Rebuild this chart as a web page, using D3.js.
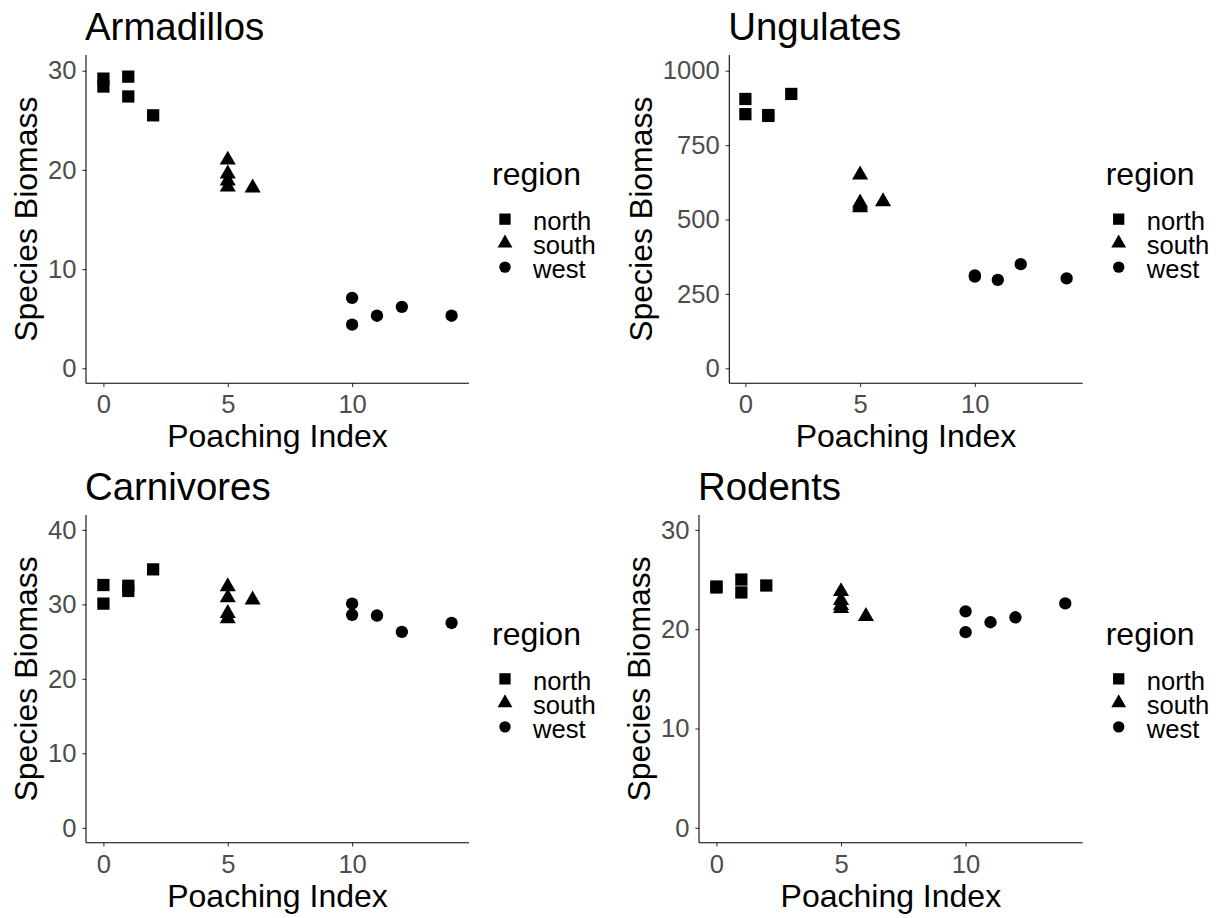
<!DOCTYPE html>
<html>
<head>
<meta charset="utf-8">
<script src="https://cdn.jsdelivr.net/npm/d3@7"></script>
<style>
  html, body { margin: 0; padding: 0; background: #fff; }
  svg { display: block; font-family: "Liberation Sans", Arial, sans-serif; }
</style>
</head>
<body>
<svg id="chart" width="1228" height="918"></svg>
<script>
// ---------------- data ----------------
const panelNames = ["Armadillos", "Ungulates", "Carnivores", "Rodents"];
const regions = ["north", "south", "west"];
const poachingIndex = [0, 0, 1, 1, 2, 5, 5, 5, 5, 6, 10, 10, 11, 12, 14];
const pointRegion = ["north", "north", "north", "north", "north",
                     "south", "south", "south", "south", "south",
                     "west", "west", "west", "west", "west"];
const armadillos = [29.2, 28.4, 29.4, 27.4, 25.5, 21.0, 19.6, 18.9, 18.3, 18.2, 7.1, 4.4, 5.3, 6.2, 5.3];
const ungulates  = [905, 854, 851, 848, 922, 650, 556, 548, 540, 560, 312, 308, 297, 350, 302];
const carnivores = [32.6, 30.1, 32.5, 31.8, 34.7, 32.4, 30.9, 28.8, 28.1, 30.6, 30.1, 28.6, 28.5, 26.3, 27.5];
const rodents    = [24.2, 24.3, 25.0, 23.7, 24.4, 23.8, 22.9, 22.4, 22.1, 21.3, 21.8, 19.7, 20.7, 21.2, 22.6];
const xTicks = [0, 5, 10];
const yTicksArmadillos = [0, 10, 20, 30];
const yTicksUngulates = [0, 250, 500, 750, 1000];
const yTicksCarnivores = [0, 10, 20, 30, 40];
const yTicksRodents = [0, 10, 20, 30];
const xLabel = "Poaching Index";
const yLabel = "Species Biomass";
const legendTitle = "region";

// ---------------- layout ----------------
const panelValues = [armadillos, ungulates, carnivores, rodents];
const panelYTicks = [yTicksArmadillos, yTicksUngulates, yTicksCarnivores, yTicksRodents];
const panelYDomain = [[-1.51, 31.58], [-50.4, 1052.8], [-2.0, 42.0], [-1.5, 31.5]];
const xDomain = [-0.7, 14.7];
const boxes = [
  { x0: 86,    x1: 469,    y0: 55,  y1: 383.3 },
  { x0: 729.3, x1: 1082.7, y0: 55,  y1: 383.3 },
  { x0: 86,    x1: 469,    y0: 515, y1: 842.7 },
  { x0: 699,   x1: 1082.7, y0: 515, y1: 842.7 }
];

const shapeOf = d3.scaleOrdinal().domain(regions)
  .range([d3.symbolSquare, d3.symbolTriangle, d3.symbolCircle]);
const sizeOf = d3.scaleOrdinal().domain(regions).range([150, 112, 120]);

const svg = d3.select("#chart");

panelNames.forEach((name, i) => {
  const b = boxes[i];
  const x = d3.scaleLinear().domain(xDomain).range([b.x0, b.x1]);
  const y = d3.scaleLinear().domain(panelYDomain[i]).range([b.y1, b.y0]);
  const g = svg.append("g");

  // title
  g.append("text")
    .attr("x", b.x0 - 1).attr("y", b.y0 - 15)
    .attr("font-size", 38.4).attr("fill", "#000")
    .text(name);

  // axes
  const yAxis = g.append("g").attr("transform", `translate(${b.x0},0)`)
    .call(d3.axisLeft(y).tickValues(panelYTicks[i]).tickSize(3.7).tickPadding(5.8).tickFormat(d3.format("d")));
  const xAxis = g.append("g").attr("transform", `translate(0,${b.y1})`)
    .call(d3.axisBottom(x).tickValues(xTicks).tickSize(3.7).tickPadding(8).tickFormat(d3.format("d")));
  [yAxis, xAxis].forEach(ax => {
    ax.select(".domain").remove();
    ax.selectAll(".tick line").attr("stroke", "#333").attr("stroke-width", 1.07);
    ax.selectAll(".tick text").attr("fill", "#4D4D4D").attr("font-size", 25.6)
      .attr("font-family", "Liberation Sans, Arial, sans-serif");
  });
  // axis lines
  g.append("line").attr("x1", b.x0).attr("x2", b.x0).attr("y1", b.y0).attr("y2", b.y1)
    .attr("stroke", "#000").attr("stroke-width", 1.07);
  g.append("line").attr("x1", b.x0).attr("x2", b.x1).attr("y1", b.y1).attr("y2", b.y1)
    .attr("stroke", "#000").attr("stroke-width", 1.07);

  // axis titles
  g.append("text")
    .attr("x", (b.x0 + b.x1) / 2).attr("y", b.y1 + 64)
    .attr("text-anchor", "middle").attr("font-size", 32).attr("fill", "#000")
    .text(xLabel);
  let minLeft = Infinity;
  yAxis.selectAll(".tick text").each(function () {
    const bb = this.getBBox();
    minLeft = Math.min(minLeft, b.x0 + bb.x);
  });
  const yc = (b.y0 + b.y1) / 2;
  const ly = minLeft - 11;
  g.append("text")
    .attr("transform", `translate(${ly},${yc}) rotate(-90)`)
    .attr("text-anchor", "middle").attr("font-size", 32).attr("fill", "#000")
    .text(yLabel);

  // points
  const vals = panelValues[i];
  g.append("g").selectAll("path")
    .data(vals.map((v, k) => ({ px: poachingIndex[k], v, r: pointRegion[k] })))
    .join("path")
    .attr("transform", d => `translate(${x(d.px)},${y(d.v)})`)
    .attr("d", d => d3.symbol().type(shapeOf(d.r)).size(sizeOf(d.r))())
    .attr("fill", "#000");

  // legend
  const lx = b.x1 + 23;
  const lg = g.append("g");
  lg.append("text").attr("x", lx).attr("y", yc - 34)
    .attr("font-size", 32).attr("fill", "#000").text(legendTitle);
  regions.forEach((r, k) => {
    lg.append("path")
      .attr("transform", `translate(${b.x1 + 36},${yc + k * 24})`)
      .attr("d", d3.symbol().type(shapeOf(r)).size(sizeOf(r) * 0.85)())
      .attr("fill", "#000");
    lg.append("text").attr("x", b.x1 + 64).attr("y", yc + 11 + k * 24)
      .attr("font-size", 25.6).attr("fill", "#000").text(r);
  });
});
</script>
</body>
</html>
